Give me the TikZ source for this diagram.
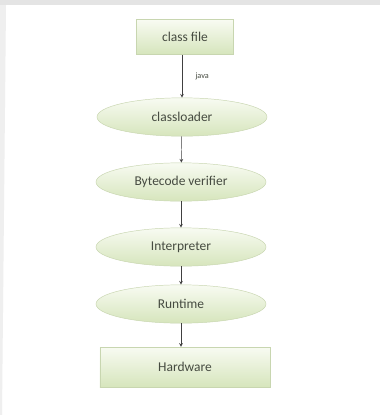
\documentclass[tikz,border=0pt]{standalone}
\usepackage{fontspec}
\setmainfont{Carlito}
\usepackage{tikz}
\usetikzlibrary{shapes.geometric, arrows, positioning}
\definecolor{jvmgreen}{RGB}{214, 229, 188}
\definecolor{jvmlight}{RGB}{248, 251, 242}
\definecolor{jvmedge}{RGB}{200, 214, 176}
\definecolor{jvmtext}{RGB}{70, 75, 65}
\definecolor{jvmframe}{RGB}{228, 228, 228}

\begin{document}
\begin{tikzpicture}[x=0.03cm, y=-0.03cm,
    stage/.style={ellipse, draw=jvmedge, top color=jvmlight, bottom color=jvmgreen, minimum width=5.1cm, minimum height=1.15cm, text=jvmtext, font=\fontsize{11.5}{13}\selectfont},
    block/.style={rectangle, draw=jvmedge, top color=jvmlight, bottom color=jvmgreen, minimum height=1.05cm, text=jvmtext, font=\fontsize{11.5}{13}\selectfont},
    arrow/.style={->, >=stealth, color=black!75}
]
    \useasboundingbox (0, 0) rectangle (380, 415);
    \fill[white] (0, 0) rectangle (380, 415);
    \fill[jvmframe] (0, 0) rectangle (380, 5);
    \fill[jvmframe!60] (0, 5) -- (6, 5) -- (2, 415) -- (0, 415) -- cycle;

    \node[block, minimum width=2.9cm] (cls) at (185, 37) {class file};
    \node[stage] (loader) at (182, 117) {classloader};
    \node[stage] (verify) at (181, 182) {Bytecode verifier};
    \node[stage] (interp) at (181, 247) {Interpreter};
    \node[stage] (run) at (181, 304) {Runtime};
    \node[block, minimum width=5.1cm, minimum height=1.2cm] (hw) at (185, 367) {Hardware};

    \draw[arrow] (cls.south -| loader) -- node[right=8pt, font=\scriptsize, text=jvmtext] {java} (loader);
    \draw[arrow] (loader) -- (verify);
    \draw[arrow] (verify) -- (interp);
    \draw[arrow] (interp) -- (run);
    \draw[arrow] (run) -- (run |- hw.north);
\end{tikzpicture}
\end{document}
